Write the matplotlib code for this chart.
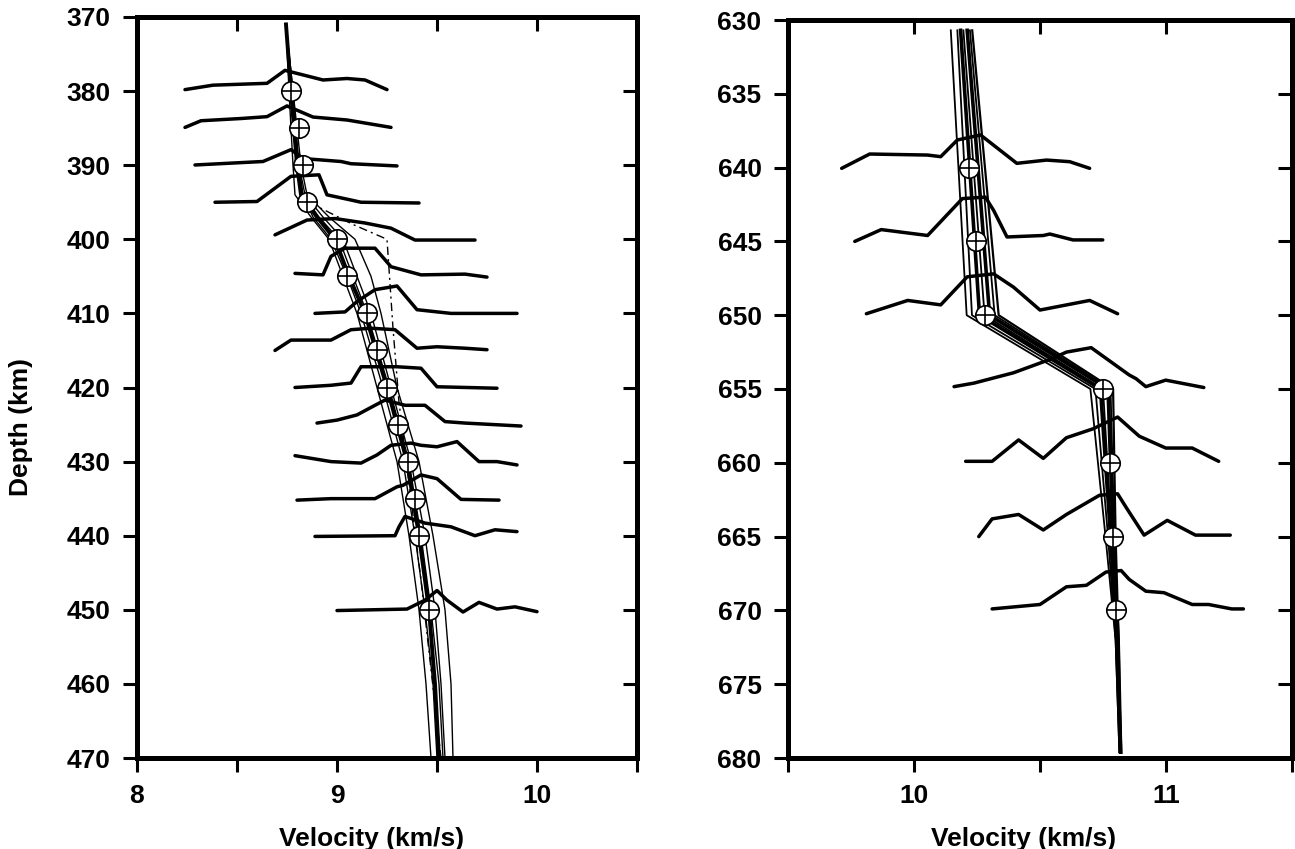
import matplotlib
matplotlib.use("Agg")
import matplotlib.pyplot as plt

plt.rcParams['font.family'] = ['Liberation Sans', 'DejaVu Sans']
plt.rcParams['font.weight'] = 'bold'

# ---------------- Left panel (410 km region) ----------------
L_marker_depth = [380, 385, 390, 395, 400, 405, 410, 415, 420, 425, 430, 435, 440, 450]
L_marker_vel = [8.77, 8.81, 8.83, 8.85, 9.00, 9.05, 9.15, 9.20, 9.25, 9.305, 9.355, 9.39, 9.41, 9.46]

L_model_depth = [371, 380, 390, 394, 397, 400, 405, 410, 420, 430, 440, 450, 460, 470]
L_model_main = [8.745, 8.77, 8.80, 8.82, 8.90, 8.99, 9.06, 9.14, 9.25, 9.35, 9.41, 9.46, 9.49, 9.51]
L_model_thin = [
    [8.745, 8.76, 8.78, 8.79, 8.87, 8.96, 9.03, 9.10, 9.20, 9.30, 9.36, 9.41, 9.445, 9.47],
    [8.745, 8.78, 8.82, 8.85, 8.96, 9.09, 9.17, 9.22, 9.30, 9.41, 9.48, 9.54, 9.57, 9.58],
    [8.745, 8.77, 8.81, 8.84, 8.93, 9.03, 9.10, 9.17, 9.27, 9.37, 9.44, 9.49, 9.52, 9.54],
    [8.745, 8.77, 8.80, 8.83, 8.88, 8.97, 9.05, 9.12, 9.23, 9.33, 9.39, 9.44, 9.48, 9.50],
    [8.745, 8.78, 8.81, 8.83, 8.91, 9.01, 9.08, 9.15, 9.26, 9.36, 9.42, 9.47, 9.51, 9.53],
]
L_dash_depth = [395, 398, 400, 412, 422, 446, 470]
L_dash_vel = [8.86, 9.08, 9.25, 9.28, 9.31, 9.42, 9.52]

L_trace_v = [
    [8.24, 8.38, 8.65, 8.74, 8.93, 9.05, 9.14, 9.25],
    [8.24, 8.32, 8.52, 8.65, 8.75, 8.88, 9.05, 9.27],
    [8.29, 8.63, 8.77, 8.83, 9.02, 9.07, 9.30],
    [8.39, 8.60, 8.77, 8.91, 8.95, 9.07, 9.12, 9.41],
    [8.69, 8.85, 8.99, 9.14, 9.27, 9.39, 9.69],
    [8.79, 8.93, 8.97, 9.04, 9.19, 9.27, 9.42, 9.64, 9.75],
    [8.89, 9.04, 9.10, 9.19, 9.30, 9.40, 9.57, 9.90],
    [8.69, 8.77, 8.97, 9.07, 9.17, 9.29, 9.40, 9.50, 9.64, 9.75],
    [8.79, 8.97, 9.07, 9.12, 9.24, 9.30, 9.42, 9.50, 9.80],
    [8.90, 9.00, 9.10, 9.19, 9.24, 9.34, 9.44, 9.54, 9.64, 9.92],
    [8.79, 8.97, 9.12, 9.20, 9.27, 9.37, 9.42, 9.50, 9.60, 9.71, 9.80, 9.90],
    [8.80, 8.97, 9.19, 9.30, 9.33, 9.42, 9.50, 9.62, 9.81],
    [8.89, 9.29, 9.31, 9.34, 9.44, 9.57, 9.69, 9.79, 9.90],
    [9.00, 9.35, 9.44, 9.50, 9.55, 9.63, 9.71, 9.80, 9.89, 10.00],
]
L_trace_d = [
    [379.8, 379.2, 378.95, 377.2, 378.5, 378.3, 378.5, 379.8],
    [384.9, 384.0, 383.7, 383.45, 382.0, 383.5, 383.9, 384.9],
    [389.97, 389.5, 387.9, 389.1, 389.5, 389.8, 390.1],
    [395.0, 394.9, 391.5, 391.3, 394.0, 394.7, 395.0, 395.1],
    [399.4, 397.4, 397.2, 397.8, 398.5, 400.1, 400.1],
    [404.6, 404.8, 402.3, 401.2, 401.2, 403.7, 404.8, 404.7, 405.1],
    [410.0, 409.8, 408.4, 406.8, 406.3, 409.5, 410.0, 410.0],
    [415.0, 413.6, 413.6, 412.2, 412.0, 412.2, 414.7, 414.5, 414.7, 414.9],
    [420.0, 419.7, 419.4, 417.2, 417.2, 417.2, 417.4, 419.9, 420.1],
    [424.8, 424.4, 423.7, 422.4, 421.7, 422.4, 422.4, 424.6, 424.8, 425.2],
    [429.2, 430.0, 430.2, 429.1, 427.8, 427.5, 427.8, 428.0, 427.3, 430.0, 430.0, 430.45],
    [435.2, 435.0, 435.0, 433.4, 433.2, 431.8, 432.3, 435.1, 435.2],
    [440.1, 440.0, 438.8, 437.4, 438.3, 438.8, 440.0, 439.2, 439.45],
    [450.1, 449.9, 448.7, 447.4, 448.7, 450.3, 449.0, 449.9, 449.6, 450.25],
]

# ---------------- Right panel (660 km region) ----------------
R_marker_depth = [640, 645, 650, 655, 660, 665, 670]
R_marker_vel = [10.22, 10.247, 10.28, 10.75, 10.776, 10.79, 10.80]

R_model_depth = [630.7, 650, 655, 665, 672, 679.6]
R_models = [
    [10.146, 10.209, 10.70, 10.76, 10.80, 10.815],
    [10.172, 10.23, 10.72, 10.77, 10.80, 10.815],
    [10.185, 10.26, 10.74, 10.78, 10.805, 10.82],
    [10.196, 10.28, 10.75, 10.785, 10.805, 10.82],
    [10.211, 10.30, 10.77, 10.79, 10.81, 10.82],
    [10.222, 10.32, 10.78, 10.795, 10.81, 10.82],
    [10.231, 10.336, 10.79, 10.80, 10.812, 10.82],
]
R_model_widths = [1.3, 1.3, 2.6, 1.3, 2.6, 1.3, 1.6]

R_trace_v = [
    [9.713, 9.824, 10.054, 10.106, 10.172, 10.264, 10.408, 10.526, 10.618, 10.697],
    [9.765, 9.87, 10.054, 10.192, 10.283, 10.316, 10.369, 10.513, 10.539, 10.631, 10.749],
    [9.811, 9.975, 10.106, 10.211, 10.316, 10.395, 10.5, 10.697, 10.808],
    [10.159, 10.238, 10.395, 10.539, 10.605, 10.703, 10.854, 10.881, 10.92, 10.999, 11.15],
    [10.205, 10.31, 10.415, 10.513, 10.605, 10.71, 10.808, 10.894, 10.999, 11.104, 11.209],
    [10.257, 10.31, 10.415, 10.513, 10.605, 10.736, 10.808, 10.841, 10.913, 11.005, 11.117, 11.255],
    [10.31, 10.5, 10.605, 10.684, 10.762, 10.822, 10.854, 10.92, 10.992, 11.104, 11.169, 11.261, 11.307],
]
R_trace_d = [
    [640.05, 639.08, 639.15, 639.26, 638.13, 637.79, 639.71, 639.49, 639.6, 640.05],
    [645.0, 644.2, 644.6, 642.1, 642.0, 642.9, 644.7, 644.6, 644.5, 644.9, 644.9],
    [649.9, 649.0, 649.3, 647.4, 647.2, 648.1, 649.65, 649.0, 649.9],
    [654.84, 654.6, 653.9, 653.0, 652.5, 652.2, 654.05, 654.3, 654.84, 654.4, 654.9],
    [659.9, 659.9, 658.45, 659.7, 658.3, 657.7, 656.9, 658.2, 659.0, 659.0, 659.9],
    [665.0, 663.8, 663.5, 664.55, 663.5, 662.2, 662.1, 663.0, 664.9, 663.9, 664.9, 664.9],
    [669.9, 669.6, 668.4, 668.3, 667.4, 667.3, 667.9, 668.7, 668.8, 669.6, 669.6, 669.9, 669.9],
]

# axis settings
L_xticks = [8, 8.5, 9, 9.5, 10, 10.5]
L_xticklabels = ['8', '', '9', '', '10', '']
L_yticks = [370, 380, 390, 400, 410, 420, 430, 440, 450, 460, 470]
R_xticks = [9.5, 10, 10.5, 11, 11.5]
R_xticklabels = ['', '10', '', '11', '']
R_yticks = [630, 635, 640, 645, 650, 655, 660, 665, 670, 675, 680]

W, H = 1295, 849
fig = plt.figure(figsize=(W / 100, H / 100), dpi=100)
fig.patch.set_facecolor('white')
axL = fig.add_axes([137 / W, 1 - 758 / H, 500 / W, (758 - 17) / H])
axR = fig.add_axes([788 / W, 1 - 758 / H, 504 / W, (758 - 20) / H])

SPINE_W = 3.6
FS = 19


def style(ax, xlim, ylim, xticks, xlabels, yticks):
    ax.set_xlim(*xlim)
    ax.set_ylim(*ylim)
    for s in ax.spines.values():
        s.set_linewidth(SPINE_W)
    ax.set_xticks(xticks)
    ax.set_xticklabels(xlabels)
    ax.set_yticks(yticks)
    ax.tick_params(axis='both', which='major', direction='out', length=10,
                   width=2.2, labelsize=FS, pad=9)
    top = ax.secondary_xaxis('top')
    top.set_xticks(xticks[1:-1])
    top.tick_params(direction='in', length=10, width=2.2, labeltop=False)
    top.spines['top'].set_linewidth(SPINE_W)
    right = ax.secondary_yaxis('right')
    right.set_yticks(yticks[1:-1])
    right.tick_params(direction='in', length=10, width=2.2, labelright=False)
    right.spines['right'].set_linewidth(SPINE_W)


# left panel drawing
for vals in L_model_thin:
    axL.plot(vals, L_model_depth, color='black', lw=1.0, zorder=2)
axL.plot(L_dash_vel, L_dash_depth, color='black', lw=1.0, zorder=2,
         linestyle=(0, (6, 3, 1.5, 3)))
axL.plot(L_model_main, L_model_depth, color='black', lw=2.8, zorder=3)
for tv, td in zip(L_trace_v, L_trace_d):
    axL.plot(tv, td, color='black', lw=2.5, zorder=4, solid_joinstyle='round',
             solid_capstyle='round')
axL.plot(L_marker_vel, L_marker_depth, 'o', ms=14, mfc='white', mec='black',
         mew=1.2, zorder=5)
axL.plot(L_marker_vel, L_marker_depth, '+', ms=14, mec='black', mew=1.2, zorder=6)
style(axL, (8, 10.5), (470, 370), L_xticks, L_xticklabels, L_yticks)
axL.set_xlabel('Velocity (km/s)', fontsize=FS, fontweight='bold')
axL.xaxis.set_label_coords(0.47, -0.093)
axL.set_ylabel('Depth (km)', fontsize=FS, fontweight='bold')
axL.yaxis.set_label_coords(-0.208, 0.447)

# right panel drawing
for vals, lw in zip(R_models, R_model_widths):
    axR.plot(vals, R_model_depth, color='black', lw=lw, zorder=2)
for tv, td in zip(R_trace_v, R_trace_d):
    axR.plot(tv, td, color='black', lw=2.5, zorder=4, solid_joinstyle='round',
             solid_capstyle='round')
axR.plot(R_marker_vel, R_marker_depth, 'o', ms=14, mfc='white', mec='black',
         mew=1.2, zorder=5)
axR.plot(R_marker_vel, R_marker_depth, '+', ms=14, mec='black', mew=1.2, zorder=6)
style(axR, (9.5, 11.5), (680, 630), R_xticks, R_xticklabels, R_yticks)
axR.set_xlabel('Velocity (km/s)', fontsize=FS, fontweight='bold')
axR.xaxis.set_label_coords(0.468, -0.0935)

fig.savefig('out.png', dpi=100, facecolor='white')
